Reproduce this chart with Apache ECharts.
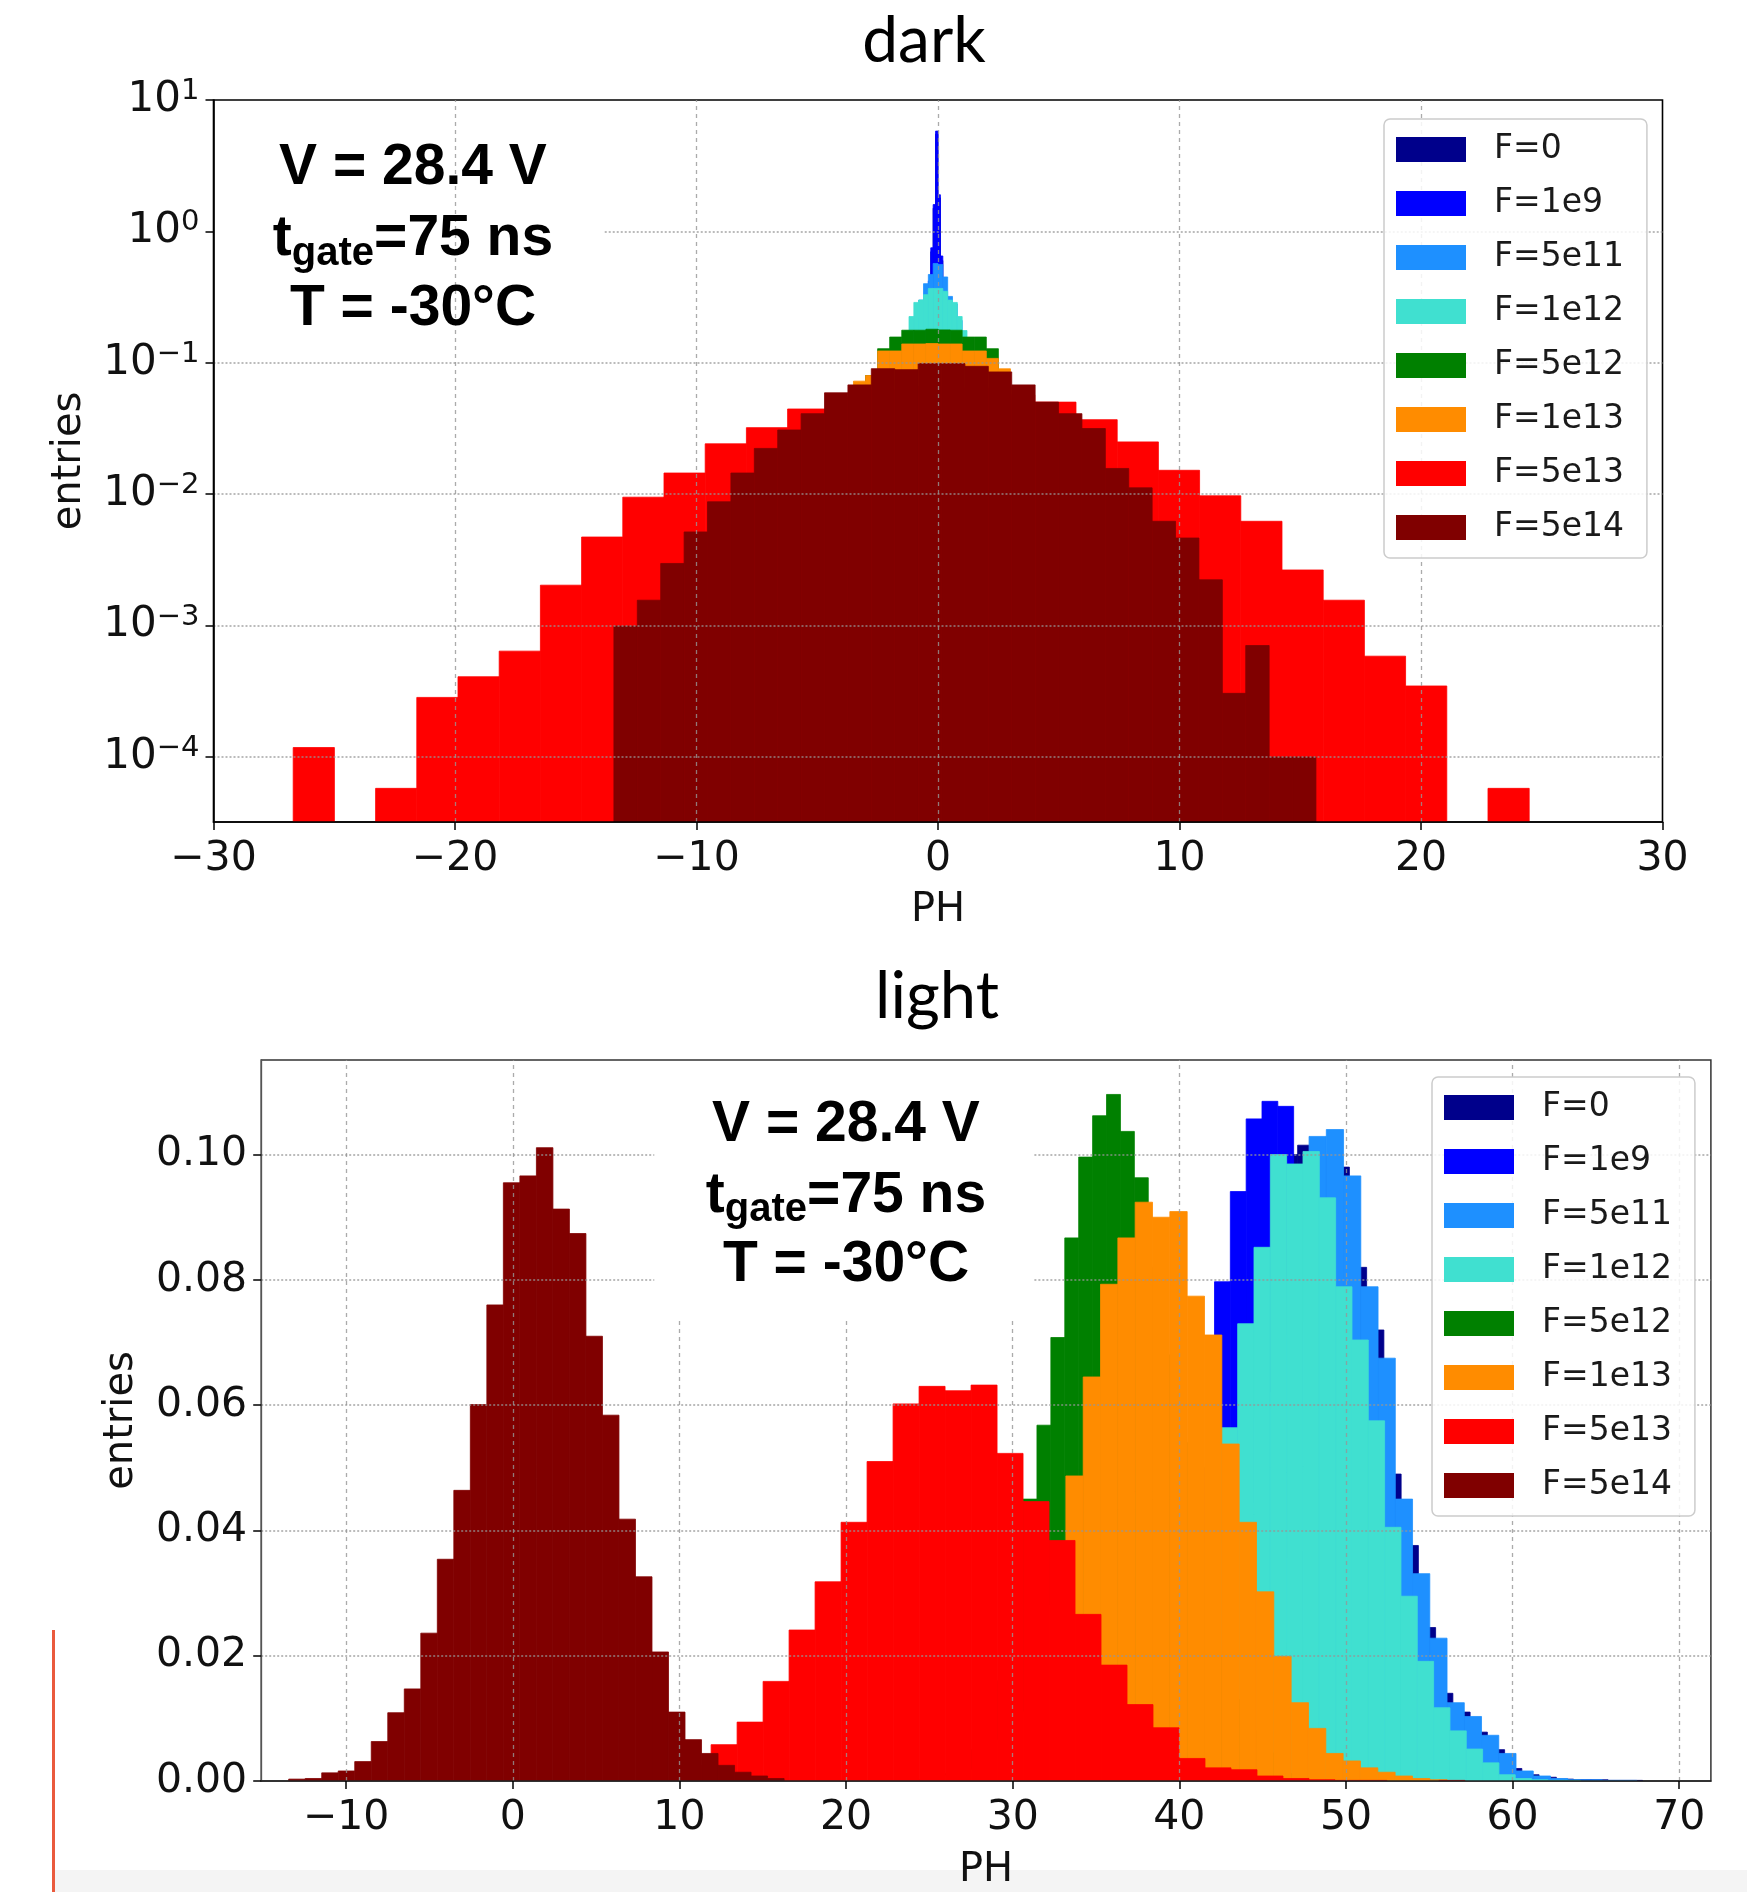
<!DOCTYPE html>
<html>
<head>
<meta charset="utf-8">
<script src="https://cdn.jsdelivr.net/npm/echarts@6/dist/echarts.min.js"></script>
<style>
html,body{margin:0;padding:0;background:#ffffff;}
#c{width:1747px;height:1892px;}
</style>
</head>
<body>
<div id="c"></div>
<script>
// ---------------- series meta ----------------
const seriesNames = ['F=0','F=1e9','F=5e11','F=1e12','F=5e12','F=1e13','F=5e13','F=5e14'];
const seriesColors = ['#00008b','#0000ff','#1e90ff','#40e0d0','#008000','#ff8c00','#ff0000','#800000'];

// ---------------- "dark" histograms (density, 30 bins each) ----------------
const darkBinStart = [-1.5, -1.5, -3.0, -3.0, -7.5, -7.5, -26.7, -13.42];
const darkBinWidth = [0.1, 0.1, 0.2, 0.2, 0.5, 0.5, 1.706, 0.969];
const dark_F0   = [0.018,0.022,0.028,0.036,0.045,0.055,0.072,0.09,0.12,0.165,0.24,0.39,0.7,1.5,5.5,1.8,0.6,0.37,0.26,0.18,0.14,0.1,0.078,0.06,0.046,0.037,0.03,0.024,0.018,0.015];
const dark_F1e9 = [0.02,0.025,0.03,0.04,0.05,0.06,0.08,0.1,0.13,0.18,0.26,0.42,0.75,1.6,5.8,1.9,0.65,0.4,0.28,0.2,0.15,0.11,0.085,0.065,0.05,0.04,0.032,0.026,0.02,0.016];
const dark_F5e11 = [0.003,0.005,0.008,0.013,0.02,0.03,0.045,0.07,0.11,0.16,0.22,0.30,0.40,0.47,0.57,0.56,0.45,0.32,0.28,0.21,0.15,0.105,0.07,0.045,0.03,0.02,0.013,0.008,0.005,0.003];
const dark_F1e12 = [0.005,0.008,0.012,0.018,0.028,0.045,0.075,0.12,0.176,0.225,0.288,0.30,0.33,0.368,0.368,0.368,0.35,0.30,0.288,0.225,0.176,0.12,0.075,0.045,0.028,0.018,0.012,0.008,0.005,0.003];
const dark_F5e12 = [0.0005,0.001,0.002,0.004,0.007,0.012,0.02,0.033,0.052,0.08,0.128,0.157,0.177,0.177,0.18,0.178,0.177,0.157,0.157,0.128,0.085,0.055,0.034,0.021,0.013,0.008,0.005,0.003,0.0015,0.0007];
const dark_F1e13 = [0.001,0.002,0.003,0.006,0.01,0.018,0.03,0.05,0.0725,0.08,0.123,0.123,0.139,0.139,0.14,0.139,0.139,0.123,0.123,0.108,0.09,0.065,0.045,0.03,0.019,0.012,0.007,0.004,0.002,0.001];
const dark_F5e13 = [1.18e-4,0,5.77e-5,2.84e-4,4.08e-4,6.39e-4,2.03e-3,4.72e-3,9.49e-3,0.01449,0.02417,0.0321,0.0445,0.055,0.062,0.066,0.064,0.057,0.0502,0.0369,0.0250,0.0152,0.00972,0.00622,0.00265,0.00156,5.85e-4,3.47e-4,0,5.77e-5];
const dark_F5e14 = [9.91e-4,1.56e-3,2.97e-3,5.16e-3,8.75e-3,0.01449,0.0223,0.0308,0.0410,0.0591,0.0679,0.0902,0.0887,0.0986,0.0986,0.094,0.0852,0.0679,0.0502,0.0410,0.0316,0.0157,0.01117,6.22e-3,4.64e-3,2.23e-3,3.05e-4,7.05e-4,1.0e-4,1.0e-4];

// ---------------- "light" histograms (density, 30 bins each) ----------------
const lightBinStart = [36.75, 36.41, 36.4, 34.68, 23.94, 24.87, 10.34, -13.45];
const lightBinWidth = [1.035, 0.95, 1.035, 0.98, 0.835, 1.04, 1.56, 0.991];
const light_F0   = [0.0002,0.0006,0.0015,0.004,0.012,0.03,0.055,0.08,0.095,0.1,0.1015,0.1,0.098,0.082,0.072,0.049,0.0376,0.0245,0.014,0.011,0.0078,0.005,0.002,0.001,0.0006,0.0003,0.0002,0.0002,0.0001,0.0001];
const light_F1e9 = [0.0003,0.001,0.003,0.008,0.025,0.05,0.0797,0.0941,0.1057,0.1085,0.1077,0.0975,0.095,0.085,0.07,0.055,0.04,0.028,0.018,0.011,0.006,0.003,0.0015,0.0008,0.0004,0.0002,0.0001,0.0001,0,0.0001];
const light_F5e11 = [0.0002,0.0005,0.001,0.003,0.007,0.014,0.026,0.043,0.062,0.08,0.095,0.1029,0.104,0.0966,0.0789,0.0675,0.045,0.0331,0.0228,0.0125,0.0103,0.0073,0.0044,0.0016,0.0008,0.0004,0.0002,0.0002,0.0001,0.0001];
const light_F1e12 = [0.0001,0.0003,0.0007,0.0015,0.004,0.01,0.022,0.038,0.0564,0.073,0.0852,0.1,0.0985,0.1005,0.0931,0.0789,0.0704,0.0575,0.0405,0.0295,0.0191,0.0117,0.008,0.0051,0.0029,0.001,0.0004,0.0002,0.0001,0.0001];
const light_F5e12 = [0.0002,0.0005,0.0012,0.0025,0.005,0.009,0.016,0.027,0.045,0.0568,0.0708,0.0867,0.0996,0.1062,0.1096,0.1037,0.0963,0.082,0.068,0.054,0.041,0.03,0.02,0.013,0.008,0.0045,0.0025,0.0012,0.0006,0.0003];
const light_F1e13 = [0.0003,0.0008,0.0018,0.0035,0.0065,0.011,0.018,0.028,0.0487,0.0645,0.0793,0.0867,0.0924,0.09,0.0909,0.0774,0.0712,0.0538,0.0413,0.0302,0.0199,0.0125,0.0084,0.0044,0.0032,0.0021,0.0014,0.0008,0.0004,0.0002];
const light_F5e13 = [0.0025,0.0058,0.0094,0.0159,0.0241,0.0318,0.0413,0.0510,0.0602,0.0630,0.0623,0.0632,0.0523,0.0446,0.0384,0.0266,0.0185,0.0122,0.0085,0.0036,0.0021,0.0018,0.0008,0.0004,0.0002,0.0001,0.0001,0,0,0.0001];
const light_F5e14 = [0.0003,0.0004,0.0013,0.0016,0.0031,0.0063,0.0109,0.0147,0.0236,0.0354,0.0464,0.0601,0.0760,0.0955,0.0966,0.1011,0.0913,0.0874,0.0710,0.0584,0.0418,0.0326,0.0206,0.0110,0.0066,0.0044,0.0025,0.0014,0.0008,0.0004];

// ---------------- axes ----------------
const darkXTicks = [-30,-20,-10,0,10,20,30];
const darkYExponents = [-4,-3,-2,-1,0,1];
const darkXRange = [-30, 30];
const darkYRange = [3.2e-5, 10];
const lightXTicks = [-10,0,10,20,30,40,50,60,70];
const lightYTicks = [0,0.02,0.04,0.06,0.08,0.10];
const lightXRange = [-15.1, 71.9];
const lightYRange = [0, 0.1151];

const darkValues = [dark_F0,dark_F1e9,dark_F5e11,dark_F1e12,dark_F5e12,dark_F1e13,dark_F5e13,dark_F5e14];
const lightValues = [light_F0,light_F1e9,light_F5e11,light_F1e12,light_F5e12,light_F1e13,light_F5e13,light_F5e14];

// ---------------- helpers ----------------
const TICK_FONT = 'DejaVu Sans';
const ANN_FONT = 'Liberation Sans';
const minusFmt = v => (v < 0 ? '\u2212' + (-v) : String(v));

function histData(values, start, width, useLog) {
  const out = [];
  values.forEach((v, i) => {
    if (v > 0) out.push([start + i * width, start + (i + 1) * width, useLog ? Math.log10(v) : v]);
  });
  return out;
}
function rectRenderer(base) {
  return function (params, api) {
    const a = api.coord([api.value(0), api.value(2)]);
    const b = api.coord([api.value(1), base]);
    const color = api.visual('color');
    return {
      type: 'rect',
      shape: { x: a[0], y: a[1], width: b[0] - a[0], height: b[1] - a[1] },
      style: { fill: color, stroke: color, lineWidth: 0.8 }
    };
  };
}
const ctx = document.createElement('canvas').getContext('2d');
function textWidth(t, font) { ctx.font = font; return ctx.measureText(t).width; }

// ---------------- build series ----------------
const darkYMinLog = Math.log10(darkYRange[0]);
const series = [];
seriesNames.forEach((n, i) => {
  series.push({
    type: 'custom', name: n, xAxisIndex: 0, yAxisIndex: 0, clip: true,
    itemStyle: { color: seriesColors[i] },
    encode: { x: [0, 1], y: 2 },
    renderItem: rectRenderer(darkYMinLog),
    data: histData(darkValues[i], darkBinStart[i], darkBinWidth[i], true),
    silent: true, z: 2
  });
});
seriesNames.forEach((n, i) => {
  series.push({
    type: 'custom', name: n, xAxisIndex: 1, yAxisIndex: 1, clip: true,
    itemStyle: { color: seriesColors[i] },
    encode: { x: [0, 1], y: 2 },
    renderItem: rectRenderer(0),
    data: histData(lightValues[i], lightBinStart[i], lightBinWidth[i], false),
    silent: true, z: 2
  });
});

// grid lines (drawn above bars like the reference)
const vStyle = { color: 'rgba(150,150,150,0.8)', width: 1.3, type: [4, 4] };
const hStyle = { color: 'rgba(150,150,150,0.8)', width: 1.6, type: [2, 2] };
function vLine(x) { return { xAxis: x, lineStyle: vStyle }; }
function hLine(y) { return { yAxis: y, lineStyle: hStyle }; }
function seg(x0, y0, x1, y1, st) { return [{ coord: [x0, y0], lineStyle: st }, { coord: [x1, y1] }]; }

const darkGrid = [-20, -10, 0, 10, 20].map(vLine)
  .concat([-4, -3, -2, -1].map(hLine))
  .concat([seg(-13.8, 0, 30, 0, hStyle)]);
const lightGrid = [-10, 0, 40, 50, 60, 70].map(vLine)
  .concat([10, 20, 30].map(x => seg(x, 0, x, 0.0739, vStyle)))
  .concat([0.02, 0.04, 0.06].map(hLine))
  .concat([0.08, 0.10].map(y => seg(-15.1, y, 8.49, y, hStyle)))
  .concat([0.08, 0.10].map(y => seg(31.3, y, 71.9, y, hStyle)));

function gridSeries(xi, data) {
  return {
    type: 'line', name: '__grid' + xi, xAxisIndex: xi, yAxisIndex: xi, data: [],
    silent: true, z: 5,
    markLine: {
      silent: true, symbol: ['none', 'none'], animation: false, z: 5,
      label: { show: false }, emphasis: { disabled: true },
      data: data
    }
  };
}
series.push(gridSeries(0, darkGrid));
series.push(gridSeries(1, lightGrid));

// ---------------- annotation (3 lines) ----------------
function annotation(cx, baselines) {
  const mainFont = 'bold 57px "' + ANN_FONT + '"';
  const subFont = 'bold 40px "' + ANN_FONT + '"';
  const mid = 0.3465; // canvas "middle" offset above baseline (em)
  const els = [];
  const mk = (text, x, y, font, align) => ({
    type: 'text', z: 50,
    style: { text: text, x: x, y: y, font: font, fill: '#000',
      align: align, textAlign: align, verticalAlign: 'middle', textVerticalAlign: 'middle' }
  });
  els.push(mk('V = 28.4 V', cx, baselines[0] - mid * 57, mainFont, 'center'));
  const w1 = textWidth('t', mainFont), w2 = textWidth('gate', subFont), w3 = textWidth('=75 ns', mainFont);
  let x = cx - (w1 + w2 + w3) / 2;
  els.push(mk('t', x, baselines[1] - mid * 57, mainFont, 'left'));
  x += w1;
  els.push(mk('gate', x, baselines[1] + 8 - mid * 40, subFont, 'left'));
  x += w2;
  els.push(mk('=75 ns', x, baselines[1] - mid * 57, mainFont, 'left'));
  els.push(mk('T = -30°C', cx, baselines[2] - mid * 57, mainFont, 'center'));
  return els;
}

const graphics = [
  // slide artefacts
  { type: 'rect', z: 0, shape: { x: 55, y: 1870, width: 1692, height: 22 }, style: { fill: '#f4f4f4' } },
  { type: 'rect', z: 0, shape: { x: 52, y: 1630, width: 3, height: 262 }, style: { fill: '#ea5a3d' } },
  // titles
  { type: 'text', z: 50, style: { text: 'dark', x: 924, y: 66 - 0.387 * 64, font: '64px Lato', fill: '#000',
      align: 'center', textAlign: 'center', verticalAlign: 'middle', textVerticalAlign: 'middle' } },
  { type: 'text', z: 50, style: { text: 'light', x: 937, y: 1022 - 0.387 * 65, font: '65px Lato', fill: '#000',
      align: 'center', textAlign: 'center', verticalAlign: 'middle', textVerticalAlign: 'middle' } }
].concat(annotation(413, [188, 259.5, 329])).concat(annotation(846, [1145.5, 1216, 1285]));

// ---------------- legends ----------------
function legend(left, top) {
  return {
    orient: 'vertical', left: left, top: top, selectedMode: false,
    data: seriesNames.map((n, i) => ({ name: n, icon: 'rect', itemStyle: { color: seriesColors[i] } })),
    itemWidth: 70, itemHeight: 25, itemGap: 21,
    padding: [14, 23, 14, 12],
    backgroundColor: 'rgba(255,255,255,0.85)', borderColor: '#cccccc', borderWidth: 1.5, borderRadius: 6,
    textStyle: { fontFamily: TICK_FONT, fontSize: 33, color: '#1a1a1a', lineHeight: 32, padding: [0, 0, 0, 23] },
    z: 20
  };
}

// ---------------- axes ----------------
const axisLineBlack = { show: true, onZero: false, lineStyle: { color: '#000', width: 1.6 } };
const tickStyle = { color: '#000', width: 1.5 };

const option = {
  animation: false,
  backgroundColor: '#ffffff',
  grid: [
    { left: 213.5, top: 100, width: 1449, height: 722, show: true, borderColor: '#000', borderWidth: 1.6, backgroundColor: 'transparent' },
    { left: 261.2, top: 1060, width: 1449.7, height: 721.5, show: true, borderColor: '#333', borderWidth: 1.5, backgroundColor: 'transparent' }
  ],
  xAxis: [
    {
      type: 'value', gridIndex: 0, min: darkXRange[0], max: darkXRange[1], interval: 10, z: 10,
      axisLine: axisLineBlack,
      axisTick: { show: true, length: 8, lineStyle: tickStyle, customValues: darkXTicks },
      axisLabel: { show: true, customValues: darkXTicks, formatter: minusFmt, fontFamily: TICK_FONT, fontSize: 41, color: '#111', margin: 17 },
      splitLine: { show: false },
      name: 'PH', nameLocation: 'middle', nameGap: 69,
      nameTextStyle: { fontFamily: TICK_FONT, fontSize: 40, color: '#111' }
    },
    {
      type: 'value', gridIndex: 1, min: lightXRange[0], max: lightXRange[1], z: 10,
      axisLine: { show: true, onZero: false, lineStyle: { color: '#222', width: 1.5 } },
      axisTick: { show: true, length: 8, lineStyle: tickStyle, customValues: lightXTicks },
      axisLabel: { show: true, customValues: lightXTicks, formatter: minusFmt, fontFamily: TICK_FONT, fontSize: 41, color: '#111', margin: 17 },
      splitLine: { show: false },
      name: 'PH', nameLocation: 'middle', nameGap: 70,
      nameTextStyle: { fontFamily: TICK_FONT, fontSize: 40, color: '#111' }
    }
  ],
  yAxis: [
    {
      type: 'value', gridIndex: 0, min: darkYMinLog, max: Math.log10(darkYRange[1]), z: 10,
      axisLine: axisLineBlack,
      axisTick: { show: true, length: 8, lineStyle: tickStyle, customValues: darkYExponents },
      axisLabel: {
        show: true, customValues: darkYExponents, margin: 14,
        formatter: v => '{b|10}{s|' + minusFmt(Math.round(v)) + '}',
        rich: {
          b: { fontFamily: TICK_FONT, fontSize: 42, color: '#111', lineHeight: 46 },
          s: { fontFamily: TICK_FONT, fontSize: 29, color: '#111', lineHeight: 24, verticalAlign: 'top' }
        }
      },
      splitLine: { show: false },
      name: 'entries', nameLocation: 'middle', nameGap: 124,
      nameTextStyle: { fontFamily: TICK_FONT, fontSize: 40, color: '#111' }
    },
    {
      type: 'value', gridIndex: 1, min: lightYRange[0], max: lightYRange[1], z: 10,
      axisLine: { show: true, onZero: false, lineStyle: { color: '#555', width: 1.3 } },
      axisTick: { show: true, length: 8, lineStyle: tickStyle, customValues: lightYTicks },
      axisLabel: { show: true, customValues: lightYTicks, formatter: v => v.toFixed(2),
        fontFamily: TICK_FONT, fontSize: 41, color: '#111', margin: 14 },
      splitLine: { show: false },
      name: 'entries', nameLocation: 'middle', nameGap: 120,
      nameTextStyle: { fontFamily: TICK_FONT, fontSize: 40, color: '#111' }
    }
  ],
  legend: [legend(1384, 119), legend(1432, 1077)],
  graphic: { elements: graphics },
  series: series
};

const chart = echarts.init(document.getElementById('c'), null, { renderer: 'canvas', width: 1747, height: 1892 });
chart.setOption(option);
</script>
</body>
</html>
